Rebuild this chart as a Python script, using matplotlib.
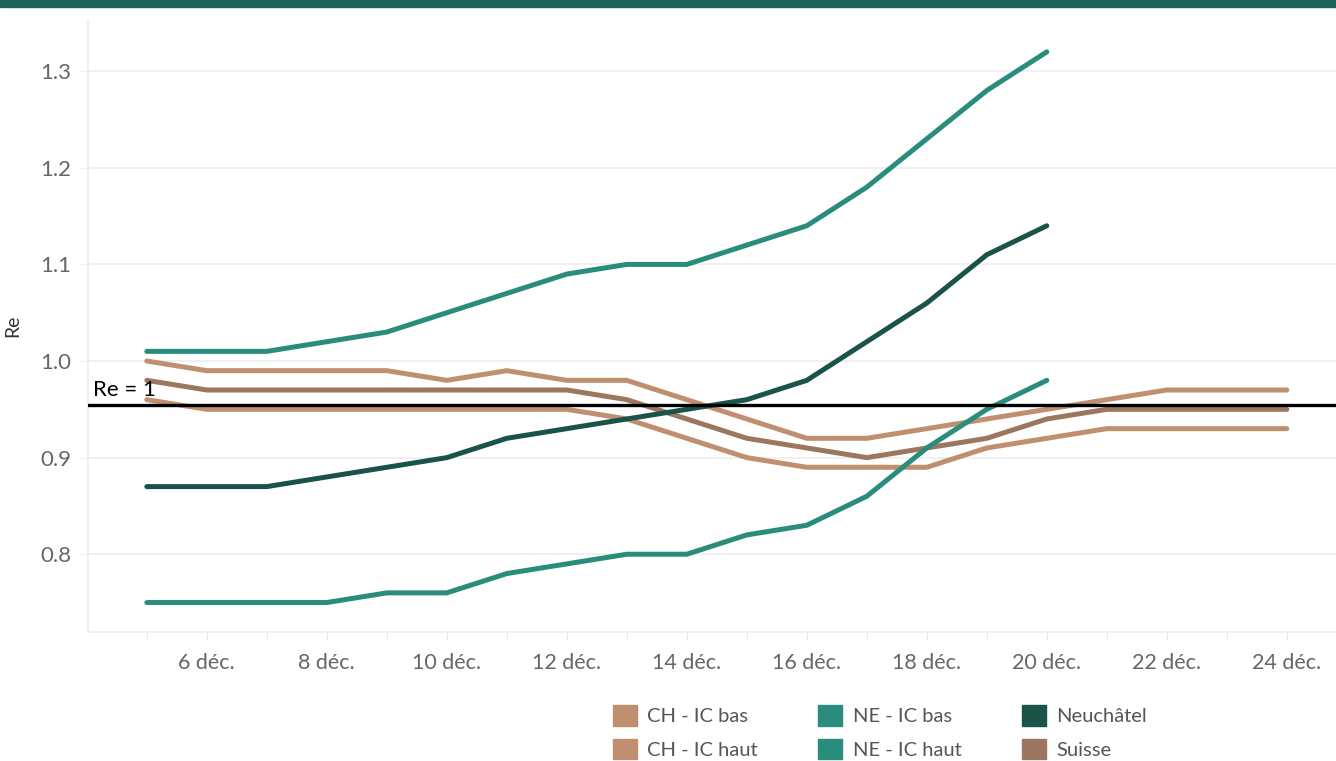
import matplotlib.pyplot as plt
from matplotlib.patches import Patch, Rectangle

plt.rcParams['font.family'] = ['Lato', 'DejaVu Sans']

# jours de décembre
days_ch = list(range(5, 25))
days_ne = list(range(5, 21))

ch_ic_bas = [0.96, 0.95, 0.95, 0.95, 0.95, 0.95, 0.95, 0.95, 0.94, 0.92,
             0.90, 0.89, 0.89, 0.89, 0.91, 0.92, 0.93, 0.93, 0.93, 0.93]
ch_ic_haut = [1.00, 0.99, 0.99, 0.99, 0.99, 0.98, 0.99, 0.98, 0.98, 0.96,
              0.94, 0.92, 0.92, 0.93, 0.94, 0.95, 0.96, 0.97, 0.97, 0.97]
suisse = [0.98, 0.97, 0.97, 0.97, 0.97, 0.97, 0.97, 0.97, 0.96, 0.94,
          0.92, 0.91, 0.90, 0.91, 0.92, 0.94, 0.95, 0.95, 0.95, 0.95]
ne_ic_bas = [0.75, 0.75, 0.75, 0.75, 0.76, 0.76, 0.78, 0.79, 0.80, 0.80,
             0.82, 0.83, 0.86, 0.91, 0.95, 0.98]
ne_ic_haut = [1.01, 1.01, 1.01, 1.02, 1.03, 1.05, 1.07, 1.09, 1.10, 1.10,
              1.12, 1.14, 1.18, 1.23, 1.28, 1.32]
neuchatel = [0.87, 0.87, 0.87, 0.88, 0.89, 0.90, 0.92, 0.93, 0.94, 0.95,
             0.96, 0.98, 1.02, 1.06, 1.11, 1.14]

ref_level = 0.954  # ligne "Re = 1" telle que dessinée
yticks = [0.8, 0.9, 1.0, 1.1, 1.2, 1.3]
xticks = list(range(6, 25, 2))

c_tan = '#c08f70'
c_suisse = '#9c765e'
c_teal = '#2a8c7c'
c_dark = '#1a5349'

fig = plt.figure(figsize=(13.36, 7.61), dpi=100)
fig.patches.append(Rectangle((0, 1 - 7 / 761), 1, 7 / 761, transform=fig.transFigure,
                             color='#1d6358', zorder=0))
ax = fig.add_axes([88 / 1336, 1 - 632 / 761, 1 - 88 / 1336, (632 - 20) / 761])

lw = 3.6
ax.plot(days_ch, ch_ic_bas, color=c_tan, lw=lw, solid_capstyle='round')
ax.plot(days_ch, ch_ic_haut, color=c_tan, lw=lw, solid_capstyle='round')
ax.plot(days_ch, suisse, color=c_suisse, lw=lw, solid_capstyle='round')
ax.plot(days_ne, ne_ic_bas, color=c_teal, lw=lw, solid_capstyle='round')
ax.plot(days_ne, ne_ic_haut, color=c_teal, lw=lw, solid_capstyle='round')
ax.plot(days_ne, neuchatel, color=c_dark, lw=lw, solid_capstyle='round')

ax.axhline(ref_level, color='black', lw=2.4, zorder=5)
ax.text(4.1, ref_level + 0.006, 'Re = 1', fontsize=16, color='black', va='bottom', ha='left',
        zorder=6)

ax.set_xlim(4.02, 24.82)
ax.set_ylim(0.7195, 1.353)
ax.set_yticks(yticks)
ax.set_yticklabels([f'{v:.1f}' for v in yticks])
ax.set_xticks(xticks)
ax.set_xticklabels([f'{d} déc.' for d in xticks])
ax.set_xticks(list(range(5, 25, 2)), minor=True)
ax.grid(axis='y', color='#eeeeee', lw=1.2)
ax.set_axisbelow(True)

for s in ['top', 'right']:
    ax.spines[s].set_visible(False)
for s in ['left', 'bottom']:
    ax.spines[s].set_color('#eeeeee')
    ax.spines[s].set_linewidth(1.2)

ax.tick_params(axis='y', colors='#eeeeee', labelcolor='#666666', labelsize=16, length=6, pad=6)
ax.tick_params(axis='x', which='both', colors='#e6e6e6', labelcolor='#666666', labelsize=15.5,
               length=6, pad=9)
ax.set_ylabel('Re', fontsize=14, color='#333333', labelpad=14)

handles = [Patch(color=c_tan), Patch(color=c_tan), Patch(color=c_teal),
           Patch(color=c_teal), Patch(color=c_dark), Patch(color=c_suisse)]
labels = ['CH - IC bas', 'CH - IC haut', 'NE - IC bas', 'NE - IC haut', 'Neuchâtel', 'Suisse']
fig.legend(handles, labels, ncol=3, frameon=False, fontsize=14.5, labelcolor='#555555',
           loc='upper left', bbox_to_anchor=(613 / 1336, 1 - 705 / 761),
           handlelength=1.2, handleheight=1.2, handletextpad=0.5, columnspacing=3.0,
           labelspacing=0.65, borderpad=0, borderaxespad=0)

fig.savefig('out.png', dpi=100)
